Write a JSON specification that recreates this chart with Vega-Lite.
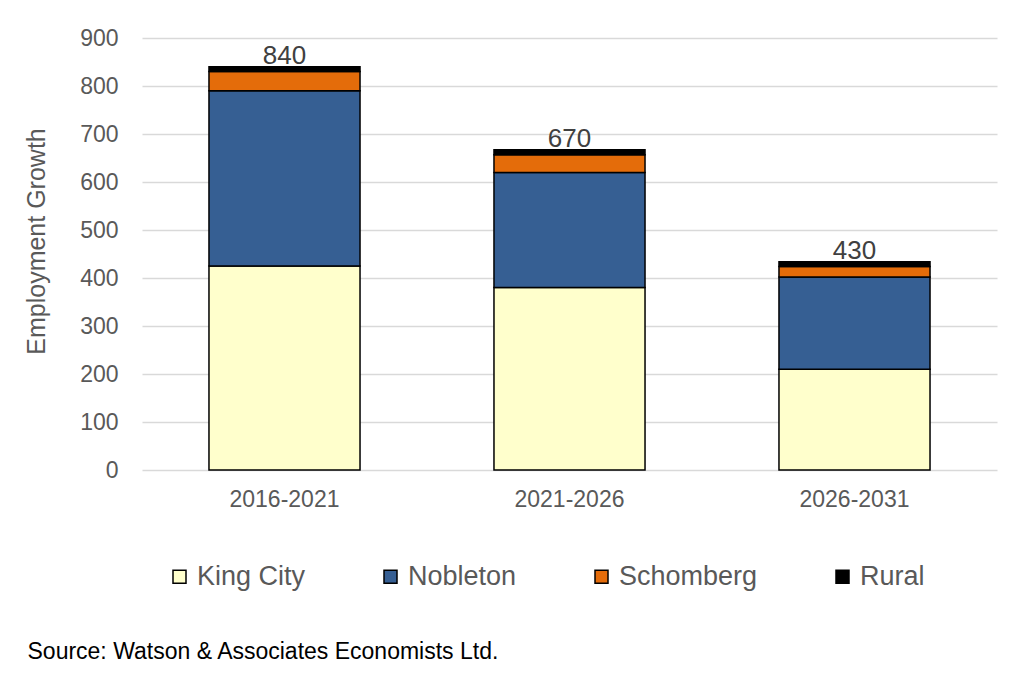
{
  "$schema": "https://vega.github.io/schema/vega-lite/v6.json",
  "width": 855,
  "height": 432,
  "autosize": {"type": "none"},
  "padding": {"left": 142, "top": 38, "right": 13, "bottom": 205},
  "background": "white",
  "config": {
    "view": {"stroke": null},
    "font": "Liberation Sans"
  },
  "datasets": {
    "parts": [
      {"Period": "2016-2021", "Area": "King City", "Growth": 425},
      {"Period": "2016-2021", "Area": "Nobleton", "Growth": 365},
      {"Period": "2016-2021", "Area": "Schomberg", "Growth": 40},
      {"Period": "2016-2021", "Area": "Rural", "Growth": 10},
      {"Period": "2021-2026", "Area": "King City", "Growth": 380},
      {"Period": "2021-2026", "Area": "Nobleton", "Growth": 240},
      {"Period": "2021-2026", "Area": "Schomberg", "Growth": 37},
      {"Period": "2021-2026", "Area": "Rural", "Growth": 10},
      {"Period": "2026-2031", "Area": "King City", "Growth": 210},
      {"Period": "2026-2031", "Area": "Nobleton", "Growth": 192},
      {"Period": "2026-2031", "Area": "Schomberg", "Growth": 22},
      {"Period": "2026-2031", "Area": "Rural", "Growth": 10}
    ],
    "totals": [
      {"Period": "2016-2021", "Total": 840, "Top": 840},
      {"Period": "2021-2026", "Total": 670, "Top": 667},
      {"Period": "2026-2031", "Total": 430, "Top": 434}
    ]
  },
  "encoding": {
    "x": {
      "field": "Period",
      "type": "nominal",
      "sort": ["2016-2021", "2021-2026", "2026-2031"],
      "scale": {"paddingInner": 0.47, "paddingOuter": 0.235},
      "axis": {
        "title": "Source: Watson & Associates Economists Ltd.",
        "titleX": -115,
        "titleY": 188,
        "titleAnchor": "start",
        "titleAlign": "left",
        "titleBaseline": "alphabetic",
        "titleFontSize": 23,
        "titleFontWeight": "normal",
        "titleColor": "#000000",
        "labelAngle": 0,
        "labelFontSize": 23,
        "labelColor": "#595959",
        "labelPadding": 18,
        "ticks": false,
        "domain": false,
        "grid": false
      }
    }
  },
  "layer": [
    {
      "data": {"name": "parts"},
      "transform": [
        {"calculate": "indexof(['King City','Nobleton','Schomberg','Rural'], datum.Area)", "as": "stackOrder"}
      ],
      "mark": {"type": "bar", "stroke": "#000000", "strokeWidth": 1.5},
      "encoding": {
        "y": {
          "field": "Growth",
          "type": "quantitative",
          "stack": "zero",
          "scale": {"domain": [0, 900], "nice": false},
          "axis": {
            "values": [0, 100, 200, 300, 400, 500, 600, 700, 800, 900],
            "title": "Employment Growth",
            "titleFontSize": 25,
            "titleFontWeight": "normal",
            "titleColor": "#595959",
            "titleX": -106,
            "titleY": 203,
            "titleAngle": -90,
            "titleAlign": "center",
            "titleBaseline": "middle",
            "labelFontSize": 23,
            "labelColor": "#595959",
            "labelPadding": 24,
            "ticks": false,
            "domain": false,
            "grid": true,
            "gridColor": "#D9D9D9",
            "gridWidth": 1.3
          }
        },
        "color": {
          "field": "Area",
          "type": "nominal",
          "scale": {
            "domain": ["King City", "Nobleton", "Schomberg", "Rural"],
            "range": ["#FFFFCC", "#365F93", "#E46C0A", "#000000"]
          },
          "legend": {
            "title": null,
            "orient": "none",
            "direction": "horizontal",
            "legendX": 24,
            "legendY": 525,
            "padding": 0,
            "symbolType": "square",
            "symbolSize": 169,
            "symbolStrokeColor": "#000000",
            "symbolStrokeWidth": 1.5,
            "symbolOpacity": 1,
            "labelFontSize": 27,
            "labelColor": "#595959",
            "labelOffset": 4,
            "columnPadding": 71,
            "labelLimit": 300
          }
        },
        "order": {"field": "stackOrder", "type": "quantitative", "sort": "ascending"}
      }
    },
    {
      "data": {"name": "totals"},
      "mark": {"type": "text", "fontSize": 26, "color": "#404040", "baseline": "alphabetic", "dy": -3},
      "encoding": {
        "y": {"field": "Top", "type": "quantitative"},
        "text": {"field": "Total", "type": "quantitative"}
      }
    }
  ]
}
